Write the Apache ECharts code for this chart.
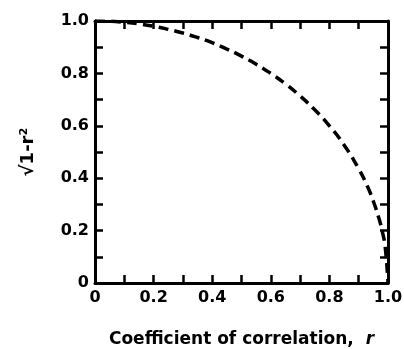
<!DOCTYPE html>
<html>
<head>
<meta charset="utf-8">
<script src="https://cdn.jsdelivr.net/npm/echarts@6/dist/echarts.min.js"></script>
<style>
    html, body { margin: 0; padding: 0; background: #fff; }
    #chart { width: 404px; height: 349px; }
</style>
</head>
<body>
<div id="chart"></div>
<script>
// values
const rValues = [0, 0.05, 0.1, 0.15, 0.2, 0.25, 0.3, 0.35, 0.4, 0.45, 0.5, 0.55, 0.6, 0.65, 0.7, 0.75, 0.8, 0.85, 0.9, 0.93, 0.95, 0.97, 0.98, 0.99, 1.0];
const rootValues = [1.0, 0.999, 0.995, 0.989, 0.98, 0.968, 0.954, 0.937, 0.917, 0.893, 0.866, 0.835, 0.8, 0.76, 0.714, 0.661, 0.6, 0.527, 0.436, 0.368, 0.312, 0.243, 0.199, 0.141, 0.0];
const xTickLabels = ["0", "0.2", "0.4", "0.6", "0.8", "1.0"];
const yTickLabels = ["0", "0.2", "0.4", "0.6", "0.8", "1.0"];

const chart = echarts.init(document.getElementById("chart"));

const fontFam = "DejaVu Sans, Verdana, sans-serif";
const black = "#000";

const tickAxis = (extra) => Object.assign({
    type: "value",
    min: 0,
    max: 1,
    interval: 0.2,
    axisLine: { show: true, onZero: false, lineStyle: { color: black, width: 3 } },
    axisTick: { show: true, inside: true, length: 8, lineStyle: { color: black, width: 2.5 } },
    minorTick: { show: true, splitNumber: 2, length: 8, lineStyle: { color: black, width: 2.5 } },
    splitLine: { show: false },
    axisLabel: { show: false }
}, extra);

const labelStyle = {
    show: true,
    color: black,
    fontFamily: fontFam,
    fontWeight: "bold",
    fontSize: 16
};

const option = {
    animation: false,
    grid: { left: 95, right: 16, top: 21, bottom: 66, outerBoundsMode: "none", containLabel: false },
    xAxis: [
        tickAxis({
            position: "bottom",
            axisLabel: Object.assign({}, labelStyle, {
                margin: 7,
                formatter: (v) => xTickLabels[Math.round(v * 5)]
            }),
            name: "Coefficient of correlation, {i|r}",
            nameLocation: "middle",
            nameGap: 48,
            nameTextStyle: {
                color: black,
                fontFamily: fontFam,
                fontWeight: "bold",
                fontSize: 17,
                rich: {
                    i: { fontStyle: "italic", fontWeight: "bold", fontSize: 17, fontFamily: fontFam, color: black, padding: [0, 0, 0, 6] }
                }
            }
        }),
        tickAxis({ position: "top" })
    ],
    yAxis: [
        tickAxis({
            position: "left",
            axisLabel: Object.assign({}, labelStyle, {
                margin: 6,
                formatter: (v) => yTickLabels[Math.round(v * 5)]
            }),
            name: "√1-r²",
            nameLocation: "middle",
            nameRotate: 90,
            nameGap: 58,
            nameTextStyle: {
                color: black,
                fontFamily: fontFam,
                fontWeight: "bold",
                fontSize: 18
            }
        }),
        tickAxis({ position: "right" })
    ],
    series: [
        {
            type: "line",
            data: rValues.map((r, i) => [r, rootValues[i]]),
            smooth: true,
            showSymbol: false,
            lineStyle: { color: black, width: 3.5, type: [10, 6] }
        }
    ]
};

chart.setOption(option);
</script>
</body>
</html>
